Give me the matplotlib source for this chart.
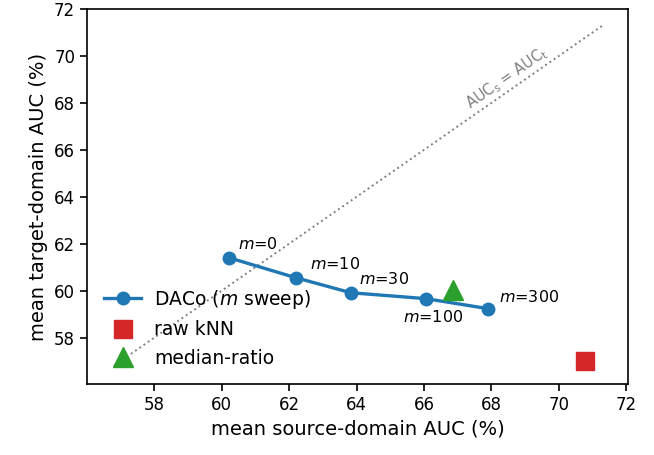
import matplotlib
matplotlib.use("Agg")
import matplotlib.pyplot as plt

# DACo sweep over m
m_values = [0, 10, 30, 100, 300]
daco_src = [60.22, 62.2, 63.83, 66.05, 67.91]
daco_tgt = [61.40, 60.55, 59.91, 59.66, 59.23]

knn_src, knn_tgt = [70.78], [56.98]
median_src, median_tgt = [66.85], [60.02]

diag = [56.8, 71.3]

# label offsets (points) for each m annotation
label_offsets = [(6, 6), (10, 6), (6, 6), (-16, -17), (8, 5)]

fig, ax = plt.subplots(figsize=(6.54, 4.55), dpi=100)

ax.plot(diag, diag, ls=":", color="gray", lw=1.4)
ax.text(68.45, 69.05, r"AUC$_\mathrm{s}$ = AUC$_\mathrm{t}$", color="gray",
        fontsize=10.5, rotation=34.8, ha="center", va="center",
        rotation_mode="anchor")

ax.plot(daco_src, daco_tgt, "-o", color="#1f77b4", lw=2.4, ms=9,
        label=r"DACo ($m$ sweep)")
for m, x, y, off in zip(m_values, daco_src, daco_tgt, label_offsets):
    ax.annotate(rf"$m$={m}", (x, y), xytext=off, textcoords="offset points",
                fontsize=11.5)

ax.plot(knn_src, knn_tgt, "s", color="#d62728", ms=13, ls="none", label="raw kNN")
ax.plot(median_src, median_tgt, "^", color="#2ca02c", ms=14, ls="none",
        label="median-ratio")

ax.set_xlim(56, 72.05)
ax.set_ylim(56, 72)
ax.set_xticks(range(58, 73, 2))
ax.set_yticks(range(58, 73, 2))
ax.tick_params(labelsize=12, width=1.2, length=5)
for s in ax.spines.values():
    s.set_linewidth(1.2)
ax.set_xlabel("mean source-domain AUC (%)", fontsize=14)
ax.set_ylabel("mean target-domain AUC (%)", fontsize=14)
ax.legend(loc="lower left", fontsize=13.5, frameon=False,
          bbox_to_anchor=(0.0, 0.0), handletextpad=0.7)

fig.subplots_adjust(left=0.133, right=0.96, top=0.98, bottom=0.155)
fig.savefig("out.png", dpi=100)
